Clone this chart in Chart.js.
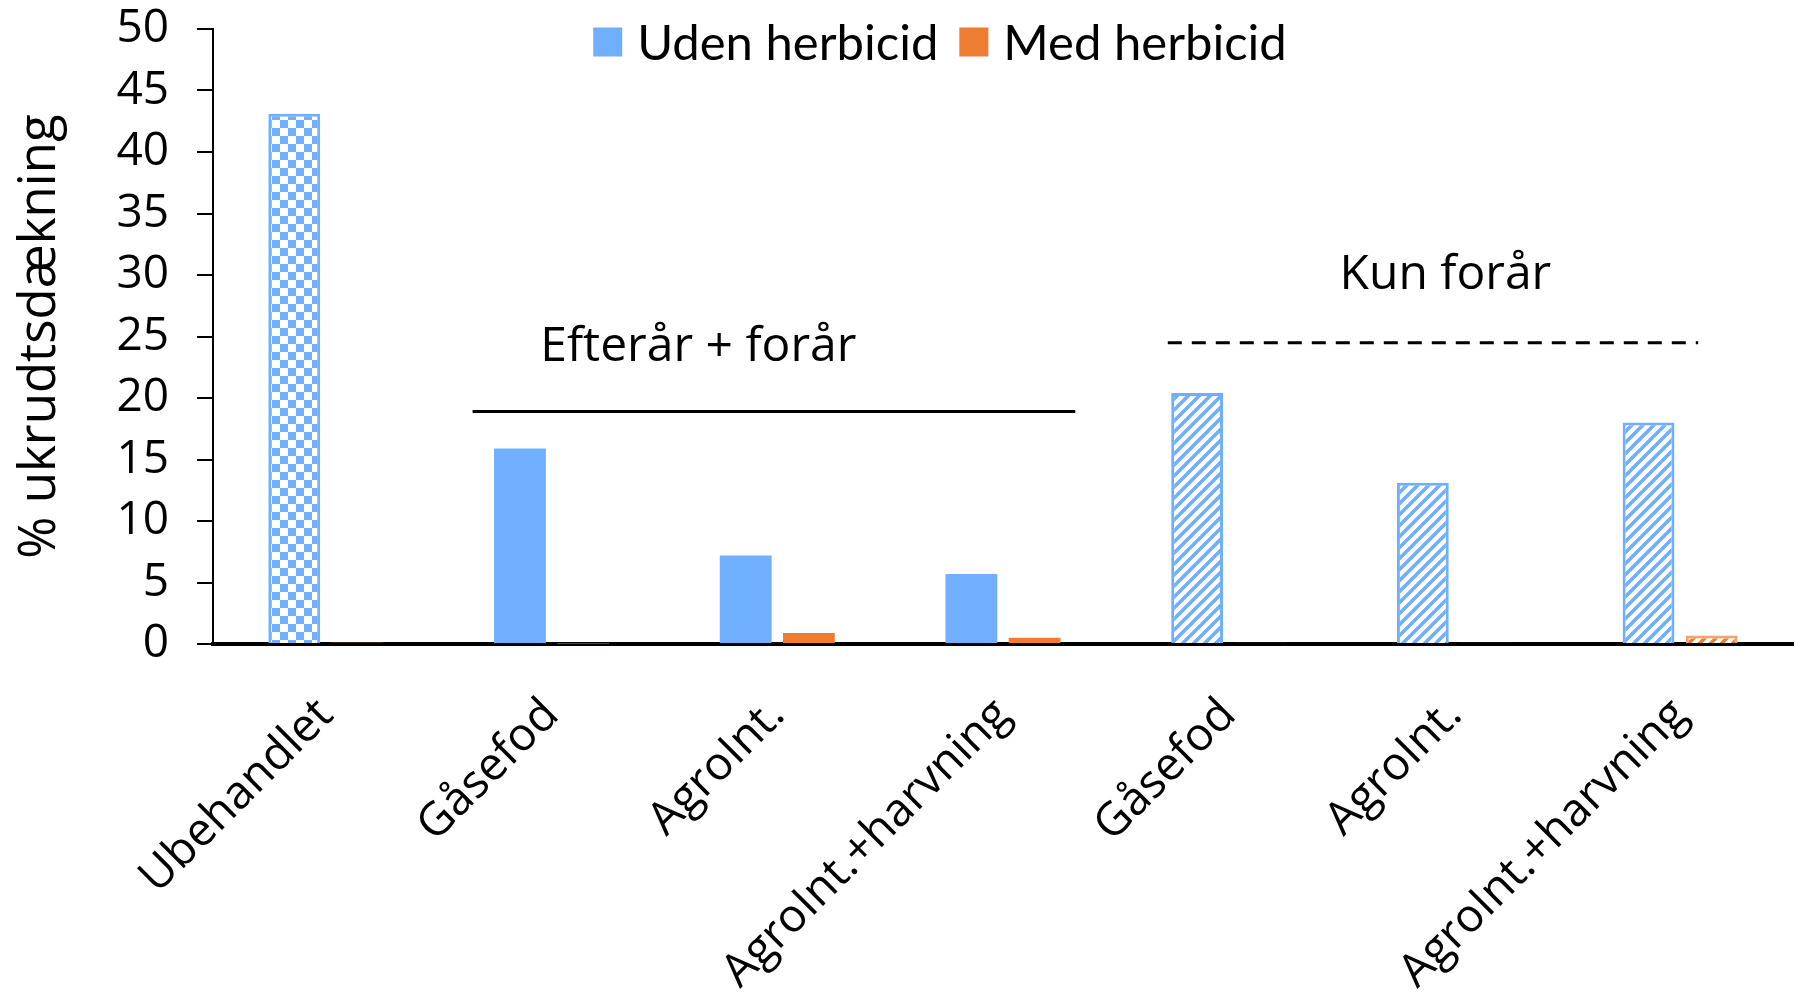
<!DOCTYPE html>
<html>
<head>
<meta charset="utf-8">
<script src="https://cdn.jsdelivr.net/npm/chart.js@4.4.1/dist/chart.umd.min.js"></script>
<style>
  html, body { margin: 0; padding: 0; background: #fff; }
  #wrap { width: 1802px; height: 993px; }
</style>
</head>
<body>
<div id="wrap"><canvas id="bars"></canvas></div>
<script>
// data
var categories = ['Ubehandlet', 'Gåsefod', 'AgroInt.', 'AgroInt.+harvning', 'Gåsefod', 'AgroInt.', 'AgroInt.+harvning'];
var udenHerbicid = [43.1, 15.9, 7.2, 5.7, 20.4, 13.1, 18.0];
var medHerbicid = [0.1, 0.05, 0.9, 0.5, 0.1, 0.1, 0.7];
var seriesNames = ['Uden herbicid', 'Med herbicid'];
var yMax = 50;
var yStep = 5;

// how each bar is filled
var udenFills = ['check', 'solid', 'solid', 'solid', 'hatch', 'hatch', 'hatch'];
var medFills = ['solid', 'solid', 'solid', 'solid', 'hatch', 'hatch', 'hatch'];

// group annotations (in data units)
var groupLabels = ['Efterår + forår', 'Kun forår'];
var groupFrom = [0.65, 3.73];
var groupTo = [3.32, 6.08];
var groupLineY = [18.9, 24.5];
var groupLabelX = [1.65, 4.96];
var groupLabelY = [24.1, 30.0];
var groupDashed = [false, true];

var BLUE = '#70AFFE';
var ORANGE = '#ED7D31';
var FONT = '"Open Sans", "Noto Sans", sans-serif';

function makePattern(kind, color) {
  var c = document.createElement('canvas');
  var g = c.getContext('2d');
  if (kind === 'check') {
    c.width = 16; c.height = 16;
    g.fillStyle = '#fff'; g.fillRect(0, 0, 16, 16);
    g.fillStyle = color;
    g.fillRect(0, 0, 8, 8);
    g.fillRect(8, 8, 8, 8);
  } else {
    var s = 11;
    c.width = s; c.height = s;
    g.fillStyle = '#fff'; g.fillRect(0, 0, s, s);
    g.strokeStyle = color; g.lineWidth = 3.6;
    g.beginPath();
    g.moveTo(-s / 2, s / 2); g.lineTo(s / 2, -s / 2);
    g.moveTo(0, s); g.lineTo(s, 0);
    g.moveTo(s / 2, s * 1.5); g.lineTo(s * 1.5, s / 2);
    g.stroke();
  }
  return g.createPattern(c, 'repeat');
}

function fillFor(fills, color) {
  var pats = {};
  return function(ctx) {
    if (ctx.type !== 'data') return color;
    var k = fills[ctx.dataIndex];
    if (k === 'solid') return color;
    if (!pats[k]) pats[k] = makePattern(k, color);
    return pats[k];
  };
}
function borderFor(fills) {
  return function(ctx) {
    if (ctx.type !== 'data') return 0;
    return fills[ctx.dataIndex] === 'solid' ? 0 : 3;
  };
}

var groupPlugin = {
  id: 'groups',
  afterDatasetsDraw: function(chart) {
    var x = chart.scales.x, y = chart.scales.y, ctx = chart.ctx;
    ctx.save();
    for (var i = 0; i < groupLabels.length; i++) {
      ctx.strokeStyle = '#000';
      ctx.lineWidth = 3;
      ctx.setLineDash(groupDashed[i] ? [14, 10] : []);
      ctx.beginPath();
      ctx.moveTo(x.getPixelForValue(groupFrom[i]), y.getPixelForValue(groupLineY[i]));
      ctx.lineTo(x.getPixelForValue(groupTo[i]), y.getPixelForValue(groupLineY[i]));
      ctx.stroke();
      ctx.setLineDash([]);
      ctx.fillStyle = '#000';
      ctx.font = '48px ' + FONT;
      ctx.textAlign = 'center';
      ctx.textBaseline = 'middle';
      ctx.fillText(groupLabels[i], x.getPixelForValue(groupLabelX[i]), y.getPixelForValue(groupLabelY[i]));
    }
    ctx.restore();
  }
};

// legend drawn inside the plot, above the bars
var legendPlugin = {
  id: 'topLegend',
  afterDraw: function(chart) {
    var ctx = chart.ctx;
    var colors = [BLUE, ORANGE];
    var box = 29, gap = 15, between = 21;
    ctx.save();
    ctx.font = '49px Lato, "Open Sans", sans-serif';
    ctx.textBaseline = 'middle';
    ctx.textAlign = 'left';
    var sets = chart.data.datasets;
    var total = 0;
    sets.forEach(function(ds, i) {
      total += box + gap + ctx.measureText(ds.label).width + (i ? between : 0);
    });
    var cx = 940, cy = 42;
    var xx = cx - total / 2;
    sets.forEach(function(ds, i) {
      if (i) xx += between;
      ctx.fillStyle = colors[i];
      ctx.fillRect(xx, cy - box / 2, box, box);
      xx += box + gap;
      ctx.fillStyle = '#000';
      ctx.fillText(ds.label, xx, cy + 2);
      xx += ctx.measureText(ds.label).width;
    });
    ctx.restore();
  }
};

function init() {
  var ctx = document.getElementById('bars');
  new Chart(ctx, {
    type: 'bar',
    data: {
      labels: categories,
      datasets: [{
        label: seriesNames[0],
        data: udenHerbicid,
        backgroundColor: fillFor(udenFills, BLUE),
        borderColor: BLUE,
        borderWidth: borderFor(udenFills),
        barPercentage: 0.82,
        categoryPercentage: 0.56
      }, {
        label: seriesNames[1],
        data: medHerbicid,
        backgroundColor: fillFor(medFills, ORANGE),
        borderColor: '#F4A26E',
        borderWidth: borderFor(medFills),
        barPercentage: 0.82,
        categoryPercentage: 0.56
      }]
    },
    options: {
      responsive: true,
      maintainAspectRatio: false,
      animation: false,
      layout: { padding: { top: 29, right: 9, left: 0, bottom: 0 } },
      plugins: {
        tooltip: { enabled: false },
        legend: { display: false }
      },
      scales: {
        x: {
          grid: { display: false },
          border: { display: true, color: '#000', width: 4 },
          ticks: {
            color: '#000',
            minRotation: 45,
            maxRotation: 45,
            autoSkip: false,
            padding: 36,
            font: { family: FONT, size: 46 }
          },
          afterFit: function(scale) {
            scale.height = 349;
            scale.paddingLeft = 0;
            scale.paddingRight = 0;
          }
        },
        y: {
          min: 0,
          max: yMax,
          grid: { drawOnChartArea: false, color: '#000', lineWidth: 2, tickLength: 16 },
          border: { display: true, color: '#000', width: 2 },
          ticks: {
            stepSize: yStep,
            color: '#000',
            padding: 28,
            font: { family: FONT, size: 46 }
          },
          title: {
            display: true,
            text: '% ukrudtsdækning',
            color: '#000',
            padding: { top: 10, bottom: 0 },
            font: { family: FONT, size: 51 }
          },
          afterFit: function(scale) {
            scale.width = 213;
            scale.paddingTop = 0;
            scale.paddingBottom = 0;
          }
        }
      }
    },
    plugins: [groupPlugin, legendPlugin]
  });
}

init();
</script>
</body>
</html>
